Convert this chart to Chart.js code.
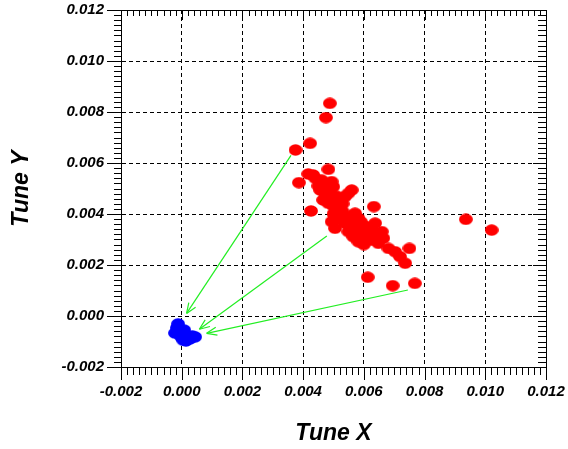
<!DOCTYPE html>
<html>
<head>
<meta charset="utf-8">
<script src="https://cdn.jsdelivr.net/npm/chart.js@4.4.1/dist/chart.umd.min.js"></script>
<style>
  html, body { margin: 0; padding: 0; background: #fff; }
</style>
</head>
<body>
<canvas id="tune_chart" width="568" height="449"></canvas>
<script>
// red = before correction, blue = after correction
const redX = [0.00488, 0.00475, 0.00423, 0.00375, 0.00386, 0.00417, 0.00433, 0.00483, 0.00461, 0.00494,
  0.00499, 0.00456, 0.00472, 0.00466, 0.00483, 0.00560, 0.00549, 0.00538, 0.00426, 0.00633,
  0.00516, 0.00527, 0.00505, 0.00571, 0.00582, 0.00494, 0.00505, 0.00538, 0.00554, 0.00593,
  0.00615, 0.00637, 0.00659, 0.00576, 0.00593, 0.00582, 0.00626, 0.00648, 0.00664, 0.00681,
  0.00703, 0.00719, 0.00736, 0.00750, 0.00565, 0.00549, 0.00613, 0.00695, 0.00768, 0.00936,
  0.01021, 0.00440, 0.00450, 0.00490, 0.00510, 0.00520, 0.00530, 0.00550, 0.00560, 0.00570,
  0.00590, 0.00600, 0.00610, 0.00630, 0.00640, 0.00500, 0.00530, 0.00580, 0.00620, 0.00470,
  0.00600, 0.00470, 0.00490, 0.00510, 0.00500, 0.00530, 0.00560, 0.00590, 0.00610, 0.00630,
  0.00650, 0.00520, 0.00570];
const redY = [0.00834, 0.00778, 0.00677, 0.00651, 0.00523, 0.00557, 0.00553, 0.00575, 0.00533, 0.00527,
  0.00507, 0.00494, 0.00481, 0.00455, 0.00442, 0.00494, 0.00481, 0.00468, 0.00412, 0.00429,
  0.00429, 0.00403, 0.00389, 0.00403, 0.00383, 0.00370, 0.00344, 0.00364, 0.00350, 0.00357,
  0.00337, 0.00364, 0.00331, 0.00318, 0.00298, 0.00291, 0.00298, 0.00285, 0.00305, 0.00265,
  0.00252, 0.00233, 0.00207, 0.00265, 0.00311, 0.00331, 0.00152, 0.00119, 0.00128, 0.00379,
  0.00337, 0.00540, 0.00510, 0.00460, 0.00450, 0.00420, 0.00440, 0.00380, 0.00370, 0.00350,
  0.00330, 0.00320, 0.00310, 0.00320, 0.00300, 0.00400, 0.00390, 0.00360, 0.00340, 0.00500,
  0.00280, 0.00500, 0.00480, 0.00470, 0.00430, 0.00410, 0.00390, 0.00370, 0.00350, 0.00330,
  0.00310, 0.00380, 0.00330];

const blueX = [-0.00012, -0.00022, 0.00014, 0.00044, 0.00027, -0.00002, -0.00016, 0.00008, 0.00035, 0.00005];
const blueY = [-0.00031, -0.00067, -0.00098, -0.00082, -0.00090, -0.00082, -0.00047, -0.00055, -0.00078, -0.00095];

const arrowStartX = [0.00360, 0.00478, 0.00745];
const arrowStartY = [0.00630, 0.00314, 0.00102];
const arrowEndX = [0.00016, 0.00058, 0.00082];
const arrowEndY = [0.00010, -0.00052, -0.00068];

const axisMin = -0.002;
const axisMax = 0.012;
const majorStep = 0.002;
const minorStep = 0.0002;

const tickFont = { family: "'Liberation Sans', Arial, sans-serif", size: 15, weight: "bold", style: "italic" };
const titleFont = { family: "'Liberation Sans', Arial, sans-serif", size: 23, weight: "bold", style: "italic" };
const arrowColor = "#22ee22";

function ellipseMarker(color) {
  const c = document.createElement("canvas");
  c.width = 14;
  c.height = 12;
  const g = c.getContext("2d");
  g.fillStyle = color;
  g.beginPath();
  g.ellipse(7, 6, 6.9, 5.8, 0, 0, Math.PI * 2);
  g.fill();
  return c;
}

const fmt = (v) => (Math.abs(v) < 1e-9 ? "0.000" : v.toFixed(3));

// no extra room for edge labels, the frame is placed by hand
function fixBox(s, size) {
  if (s.isHorizontal()) s.height = size;
  else s.width = size;
  s.paddingLeft = 0;
  s.paddingRight = 0;
  s.paddingTop = 0;
  s.paddingBottom = 0;
}

const arrowSets = arrowStartX.map((sx, i) => ({
  type: "line",
  data: [{ x: sx, y: arrowStartY[i] }, { x: arrowEndX[i], y: arrowEndY[i] }],
  borderColor: arrowColor,
  borderWidth: 1.2,
  pointRadius: 0,
  fill: false,
}));

// frame, minor ticks and arrow heads
const frameAndTicks = {
  id: "frameAndTicks",
  afterDatasetsDraw(chart) {
    const { ctx, chartArea: a, scales: { x, y } } = chart;
    const px = (v) => Math.round(v) + 0.5;
    ctx.save();

    ctx.strokeStyle = arrowColor;
    ctx.lineWidth = 1.2;
    arrowStartX.forEach((sx, i) => {
      const x0 = x.getPixelForValue(sx), y0 = y.getPixelForValue(arrowStartY[i]);
      const x1 = x.getPixelForValue(arrowEndX[i]), y1 = y.getPixelForValue(arrowEndY[i]);
      const ang = Math.atan2(y1 - y0, x1 - x0);
      ctx.beginPath();
      [0.38, -0.38].forEach((d) => {
        ctx.moveTo(x1, y1);
        ctx.lineTo(x1 - 11 * Math.cos(ang + d), y1 - 11 * Math.sin(ang + d));
      });
      ctx.stroke();
    });

    ctx.strokeStyle = "#000";
    ctx.lineWidth = 1;
    ctx.beginPath();
    ctx.rect(px(a.left), px(a.top), Math.round(a.right) - Math.round(a.left), Math.round(a.bottom) - Math.round(a.top));
    const n = Math.round((axisMax - axisMin) / minorStep);
    for (let i = 0; i <= n; i++) {
      const v = axisMin + i * minorStep;
      const major = i % 10 === 0;
      const tx = px(x.getPixelForValue(v));
      const ty = px(y.getPixelForValue(v));
      ctx.moveTo(tx, a.bottom);
      ctx.lineTo(tx, a.bottom + (major ? 13 : 8));
      ctx.moveTo(tx, a.top);
      ctx.lineTo(tx, a.top + (major ? 10 : 6));
      ctx.moveTo(a.left, ty);
      ctx.lineTo(a.left - (major ? 14 : 7), ty);
      ctx.moveTo(a.right, ty);
      ctx.lineTo(a.right - (major ? 13 : 8), ty);
    }
    ctx.stroke();
    ctx.restore();
  },
};

const axisCommon = {
  type: "linear",
  min: axisMin,
  max: axisMax,
  grid: { color: "#000", lineWidth: 1, drawTicks: false },
  border: { display: true, color: "#000", width: 1, dash: [4, 3] },
};

const tune_chart = new Chart(document.getElementById("tune_chart"), {
  type: "scatter",
  data: {
    datasets: [
      ...arrowSets,
      {
        data: redX.map((v, i) => ({ x: v, y: redY[i] })),
        pointStyle: ellipseMarker("#ff0000"),
        pointRadius: 6,
      },
      {
        data: blueX.map((v, i) => ({ x: v, y: blueY[i] })),
        pointStyle: ellipseMarker("#0000ff"),
        pointRadius: 6,
      },
    ],
  },
  options: {
    responsive: false,
    animation: false,
    layout: { padding: { top: 10, right: 22, left: 0, bottom: 0 } },
    plugins: { legend: { display: false }, tooltip: { enabled: false } },
    scales: {
      x: {
        ...axisCommon,
        ticks: { stepSize: majorStep, padding: 16, color: "#000", font: tickFont, maxRotation: 0, autoSkip: false, callback: fmt },
        title: { display: true, text: "Tune X", color: "#000", font: titleFont, padding: { top: 0, bottom: 2 } },
        afterFit: (s) => fixBox(s, 82),
      },
      y: {
        ...axisCommon,
        ticks: { stepSize: majorStep, padding: 17, color: "#000", font: tickFont, autoSkip: false, callback: fmt },
        title: { display: true, text: "Tune Y", color: "#000", font: titleFont, padding: { top: 8, bottom: 0 } },
        afterFit: (s) => fixBox(s, 121),
      },
    },
  },
  plugins: [frameAndTicks],
});
</script>
</body>
</html>
